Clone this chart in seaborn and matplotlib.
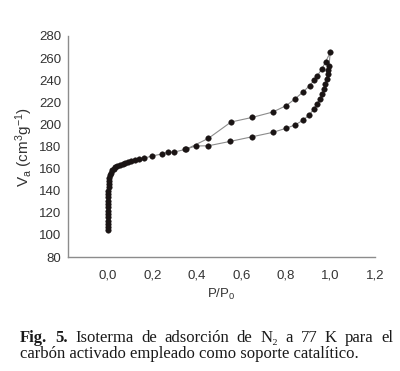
import matplotlib
matplotlib.use("Agg")
import matplotlib.pyplot as plt
import seaborn as sns
import pandas as pd
from matplotlib.ticker import FuncFormatter, MultipleLocator

# N2 isotherm at 77 K
ads_p = [0.0000, 0.0001, 0.0002, 0.0003, 0.0004, 0.0005, 0.0006, 0.0007, 0.0008, 0.0009,
         0.0012, 0.0015, 0.0018, 0.0022, 0.0027, 0.0035, 0.005, 0.008, 0.012, 0.018,
         0.025, 0.033, 0.042, 0.054, 0.065, 0.078, 0.091, 0.105, 0.120, 0.138,
         0.160, 0.196, 0.241, 0.271, 0.298, 0.348, 0.394, 0.451, 0.550, 0.649,
         0.740, 0.800, 0.840, 0.876, 0.905, 0.924, 0.939, 0.951, 0.962, 0.969,
         0.977, 0.983, 0.987, 0.990, 0.993, 0.999]
ads_v = [104.5, 107, 110, 113, 116, 119, 122, 125, 128, 131,
         134, 137, 140, 143, 146, 149, 151.5, 154, 156.5, 158.5,
         160, 161.3, 162.5, 163.3, 164.2, 165, 165.8, 166.6, 167.4, 168.3,
         169.3, 171.4, 173.2, 175.0, 175.0, 177.5, 180.5, 180.7, 184.7, 188.9,
         192.8, 196.5, 199.5, 203.7, 208.8, 213.7, 218.2, 222.7, 227.5, 232,
         236.6, 241.4, 245.6, 249.2, 252.9, 265.2]
des_p = [0.978, 0.962, 0.939, 0.927, 0.906, 0.876, 0.840, 0.800, 0.740, 0.649,
         0.553, 0.451, 0.352]
des_v = [256.7, 250.4, 243.5, 240.2, 235.0, 229.3, 223.0, 216.9, 211.2, 206.4,
         202.2, 187.4, 177.6]

x_ticks = [0.0, 0.2, 0.4, 0.6, 0.8, 1.0, 1.2]

df = pd.DataFrame({"p": ads_p + des_p, "v": ads_v + des_v})

sns.set_style("white")
plt.rcParams["font.family"] = ["Liberation Sans", "DejaVu Sans"]
plt.rcParams["mathtext.default"] = "regular"

fig = plt.figure(figsize=(4.0, 3.71), dpi=100)
ax = fig.add_axes([0.17, 0.307, 0.7675, 0.596])

sns.lineplot(data=df, x="p", y="v", sort=False, estimator=None, color="#8c8c8c",
             linewidth=0.8, ax=ax)
sns.scatterplot(data=df, x="p", y="v", color="#1a1414", s=16, edgecolor="#1a1414",
                linewidth=0.3, ax=ax, zorder=3)

ax.set_xlim(-0.18, 1.2)
ax.set_ylim(80, 280)
ax.set_xticks(x_ticks)
ax.yaxis.set_major_locator(MultipleLocator(20))
ax.xaxis.set_major_formatter(FuncFormatter(lambda v, _: f"{v:.1f}".replace(".", ",")))

for s in ["top", "right"]:
    ax.spines[s].set_visible(False)
for s in ["left", "bottom"]:
    ax.spines[s].set_color("#8c8c8c")
    ax.spines[s].set_linewidth(1.0)
ax.tick_params(axis="both", direction="out", length=3, width=0.8, color="#8c8c8c",
               labelsize=9.5, labelcolor="#333333")
ax.tick_params(axis="x", pad=6)
ax.tick_params(axis="y", pad=2)

ax.set_xlabel("P/P$_0$", fontsize=9.5, color="#333333", labelpad=4)
ax.set_ylabel("V$_a$ (cm$^3$g$^{-1}$)", fontsize=11, color="#333333", labelpad=3)

# caption, first line justified between x0 and x1
serif = ["Liberation Serif", "DejaVu Serif"]
words = [("Fig.", "bold"), ("5.", "bold"), ("Isoterma", "normal"), ("de", "normal"),
         ("adsorción", "normal"), ("de", "normal"), ("N₂", "normal"), ("a", "normal"),
         ("77", "normal"), ("K", "normal"), ("para", "normal"), ("el", "normal")]
x0, x1 = 20 / 400, 393 / 400
y1 = 1 - 342 / 371
y2 = 1 - 358 / 371
texts = [fig.text(x0, y1, w, fontsize=12, fontweight=fw, family=serif, color="#1a1a1a",
                  va="baseline") for w, fw in words]
fig.canvas.draw()
r = fig.canvas.get_renderer()
widths = [t.get_window_extent(r).width / fig.bbox.width for t in texts]
gap = (x1 - x0 - sum(widths)) / (len(words) - 1)
pos = x0
for t, w in zip(texts, widths):
    t.set_x(pos)
    pos += w + gap
fig.text(x0, y2, "carbón activado empleado como soporte catalítico.", fontsize=12,
         family=serif, color="#1a1a1a", va="baseline")

fig.savefig("out.png", dpi=100)
